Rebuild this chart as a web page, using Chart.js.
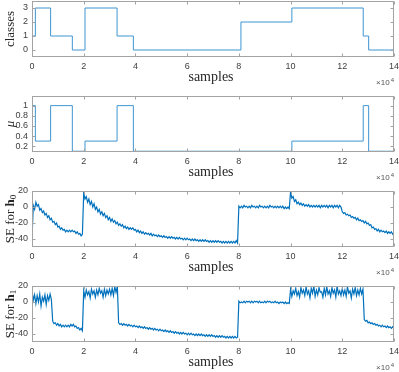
<!DOCTYPE html>
<html>
<head>
<meta charset="utf-8">
<script src="https://cdn.jsdelivr.net/npm/chart.js@4"></script>
<style>
  html, body { margin: 0; padding: 0; background: #fff; overflow: hidden; }
  #wrap { position: relative; width: 399px; height: 372px; overflow: hidden; }
  canvas { position: absolute; left: 0; }
</style>
</head>
<body>
<div id="wrap">
  <canvas id="p0" width="399" height="100" style="top:-5px"></canvas>
  <canvas id="p1" width="399" height="100" style="top:90px"></canvas>
  <canvas id="p2" width="399" height="100" style="top:185px"></canvas>
  <canvas id="p3" width="399" height="100" style="top:280px"></canvas>
</div>
<script>
// x axis in units of 10^4 samples
const xTicks = [0, 2, 4, 6, 8, 10, 12, 14];
const classTicks = [0, 1, 2, 3];
const muTicks = [0.2, 0.4, 0.6, 0.8, 1];
const seTicks = [-40, -20, 0, 20];

// step signals: value holds from changeX[i] until changeX[i+1]
const changeX = [0, 0.13, 0.72, 1.56, 2.05, 3.29, 3.92, 8.08, 10.05, 12.81, 13.02, 14];
const classValues = [1, 3, 1, 0, 3, 1, 0, 2, 3, 1, 0, 0];
const muValues = [1, 0.3, 1, 0.1, 0.3, 1, 0.1, 0.1, 0.3, 1, 0.1, 0.1];

// SE curves, read every 500 samples (0.05 x 10^4), one row = 0.5 x 10^4
const sampleStep = 0.05;
const seH0 = [
  -40, 2, -3, 6, 1, 3, -4, -2, -7, -5,
  -10, -8, -13, -11, -16, -14, -19, -18, -22, -20,
  -25, -24, -28, -26, -29, -28, -31, -29, -31, -29,
  -31, -29, -31, -30, -33, -31, -34, -33, -36, -34,
  18, 10, 13, 6, 10, 3, 7, 0, 4, -3,
  0, -6, -3, -9, -6, -11, -8, -13, -11, -16,
  -13, -18, -15, -19, -17, -21, -19, -23, -21, -24,
  -22, -26, -24, -27, -25, -28, -26, -28, -26, -29,
  -28, -31, -29, -32, -30, -33, -31, -34, -32, -34,
  -33, -35, -33, -36, -34, -36, -35, -37, -35, -37,
  -36, -38, -36, -38, -37, -39, -37, -39, -37, -39,
  -38, -40, -38, -40, -38, -40, -39, -41, -39, -41,
  -39, -41, -40, -42, -40, -42, -40, -42, -41, -43,
  -41, -43, -41, -43, -41, -43, -42, -44, -42, -44,
  -42, -44, -42, -44, -42, -44, -43, -45, -43, -45,
  -43, -45, -43, -45, -43, -45, -43, -45, -42, -45,
  1, -1, 1, -1, 2, 0, 1, -1, 1, -1,
  2, 0, 1, -1, 1, -1, 2, 0, 1, -1,
  1, -1, 1, -1, 2, 0, 1, -1, 1, -1,
  1, -1, 1, -1, 1, -2, 0, -2, 0, -2,
  19, 11, 13, 7, 9, 4, 6, 3, 5, 2,
  4, 1, 3, 1, 3, 0, 2, 0, 2, 0,
  2, 0, 2, -1, 2, 0, 2, 0, 2, -1,
  2, 0, 2, -1, 2, 0, 2, -1, 2, 0,
  -6, -8, -7, -10, -9, -11, -10, -13, -12, -14,
  -13, -16, -14, -17, -16, -18, -17, -20, -18, -21,
  -20, -23, -22, -26, -25, -28, -27, -30, -28, -31,
  -29, -31, -30, -32, -30, -33, -31, -33, -31, -34,
  -32
];
const seH1 = [
  15, 2, 9, -2, 8, 0, 10, -5, 6, 1,
  9, -3, 8, 2, 10, 3, -24, -27, -26, -29,
  -27, -30, -28, -31, -29, -31, -29, -31, -29, -31,
  -28, -30, -28, -31, -30, -33, -32, -35, -33, -36,
  14, 6, 15, 9, 13, 5, 16, 10, 14, 6,
  15, 9, 17, 11, 14, 6, 16, 8, 15, 10,
  16, 9, 17, 8, 19, 12, 20, -26, -28, -27,
  -29, -27, -29, -28, -30, -28, -30, -29, -31, -29,
  -31, -30, -32, -30, -32, -31, -33, -31, -33, -32,
  -34, -32, -34, -33, -35, -33, -35, -34, -36, -34,
  -36, -35, -37, -35, -37, -36, -38, -36, -38, -37,
  -39, -37, -39, -38, -40, -38, -40, -38, -40, -39,
  -41, -39, -41, -39, -41, -40, -42, -40, -42, -40,
  -42, -40, -42, -41, -43, -41, -43, -41, -43, -41,
  -43, -42, -44, -42, -44, -42, -44, -42, -44, -43,
  -45, -43, -45, -43, -45, -43, -45, -43, -45, -44,
  1, -1, 0, -1, 1, -1, 1, 0, 1, -1,
  1, -1, 1, 0, 1, -1, 1, -1, 0, -1,
  1, -1, 1, 0, 1, -1, 0, -1, 1, -1,
  0, -2, 0, -1, 0, -2, 0, -2, -1, -2,
  16, 7, 14, 10, 17, 8, 13, 6, 18, 11,
  15, 8, 19, 10, 14, 5, 17, 11, 20, 7,
  15, 9, 18, 12, 13, 6, 17, 9, 19, 10,
  14, 7, 18, 11, 15, 6, 20, 10, 14, 8,
  17, 9, 15, 7, 19, 11, 14, 5, 16, 10,
  18, 8, 15, 9, 17, 10, 16, -22, -24, -23,
  -26, -25, -27, -26, -28, -27, -29, -28, -30, -29,
  -31, -29, -31, -30, -32, -30, -32, -31, -33, -31,
  -33
];

const BLUE = '#0072BD';
const AXIS = '#a3a3a3';
const TEXT = '#404040';
const SERIF = '"Liberation Serif", "DejaVu Serif", serif';
const SANS = '"Liberation Sans", Arial, sans-serif';

// box, inward ticks on all sides, axis labels
const framePlugin = {
  id: 'frame',
  afterDraw(chart, args, opts) {
    const { ctx, chartArea: a, scales: { x, y } } = chart;
    const L = Math.round(a.left) + 0.5, R = Math.round(a.right) - 0.5;
    const T = Math.round(a.top) + 0.5, B = Math.round(a.bottom) - 0.5;
    ctx.save();
    ctx.strokeStyle = AXIS;
    ctx.lineWidth = 1;
    ctx.strokeRect(L, T, R - L, B - T);
    ctx.beginPath();
    x.ticks.forEach(t => {
      const px = Math.round(x.getPixelForValue(t.value)) + 0.5;
      ctx.moveTo(px, B); ctx.lineTo(px, B - 3);
      ctx.moveTo(px, T); ctx.lineTo(px, T + 3);
    });
    y.ticks.forEach(t => {
      const py = Math.round(y.getPixelForValue(t.value)) + 0.5;
      ctx.moveTo(L, py); ctx.lineTo(L + 3, py);
      ctx.moveTo(R, py); ctx.lineTo(R - 3, py);
    });
    ctx.stroke();

    // x label
    ctx.fillStyle = '#262626';
    ctx.textAlign = 'center';
    ctx.textBaseline = 'middle';
    ctx.font = '14px ' + SERIF;
    ctx.fillText('samples', (a.left + a.right) / 2 - 2, a.bottom + 20);

    // exponent
    ctx.fillStyle = '#555';
    ctx.textAlign = 'right';
    ctx.font = '6px ' + SANS;
    const w4 = ctx.measureText('4').width;
    ctx.fillText('4', a.right, a.bottom + 23);
    ctx.font = '8px ' + SANS;
    ctx.fillText('\u00d710', a.right - w4 - 1, a.bottom + 26);

    // y label (rotated, rich text)
    const parts = opts.yTitle || [];
    ctx.translate(11, (a.top + a.bottom) / 2);
    ctx.rotate(-Math.PI / 2);
    ctx.textAlign = 'left';
    ctx.fillStyle = '#262626';
    let total = 0;
    parts.forEach(p => { ctx.font = p.font; total += ctx.measureText(p.text).width; });
    let cx = -total / 2;
    parts.forEach(p => {
      ctx.font = p.font;
      ctx.fillText(p.text, cx, p.dy || 0);
      cx += ctx.measureText(p.text).width;
    });
    ctx.restore();
  }
};

function makePanel(id, points, yMin, yMax, yTicks, yTitle, stepped, color, width) {
  return new Chart(document.getElementById(id), {
    type: 'line',
    data: {
      datasets: [{
        data: points,
        stepped: stepped,
        borderColor: color,
        borderWidth: width,
        pointRadius: 0,
        tension: 0
      }]
    },
    options: {
      responsive: false,
      animation: false,
      events: [],
      layout: { padding: { top: 6, left: 0, right: 5, bottom: 0 } },
      plugins: {
        legend: { display: false },
        tooltip: { enabled: false },
        frame: { yTitle: yTitle }
      },
      scales: {
        x: {
          type: 'linear',
          min: 0,
          max: 14,
          afterBuildTicks: s => { s.ticks = xTicks.map(v => ({ value: v })); },
          afterFit: s => { s.height = 38; s.paddingLeft = 0; s.paddingRight = 0; },
          grid: { display: false, drawTicks: false },
          border: { display: false },
          ticks: {
            color: TEXT,
            font: { family: SANS, size: 9 },
            padding: 4,
            maxRotation: 0,
            autoSkip: false,
            callback: v => String(v)
          }
        },
        y: {
          type: 'linear',
          min: yMin,
          max: yMax,
          afterBuildTicks: s => { s.ticks = yTicks.map(v => ({ value: v })); },
          afterFit: s => { s.width = 32; s.paddingTop = 0; s.paddingBottom = 0; },
          grid: { display: false, drawTicks: false },
          border: { display: false },
          ticks: {
            color: TEXT,
            font: { family: SANS, size: 9 },
            padding: 4,
            autoSkip: false,
            callback: v => String(v)
          }
        }
      }
    },
    plugins: [framePlugin]
  });
}

const classPts = changeX.map((x, i) => ({ x: x, y: classValues[i] }));
const muPts = changeX.map((x, i) => ({ x: x, y: muValues[i] }));
const h0Pts = seH0.map((v, i) => ({ x: i * sampleStep, y: v }));
const h1Pts = seH1.map((v, i) => ({ x: i * sampleStep, y: v }));

makePanel('p0', classPts, -0.5, 3.5, classTicks,
  [{ text: 'classes', font: '13px ' + SERIF }], true, '#3f95d2', 1);
makePanel('p1', muPts, 0.085, 1.19, muTicks,
  [{ text: '\u03bc', font: 'italic 13px ' + SERIF }], true, '#3f95d2', 1);
makePanel('p2', h0Pts, -50, 20, seTicks,
  [{ text: 'SE for ', font: '13px ' + SERIF },
   { text: 'h', font: 'bold 13px ' + SERIF },
   { text: '0', font: '9px ' + SERIF, dy: 3 }], false, BLUE, 1.2);
makePanel('p3', h1Pts, -50, 20, seTicks,
  [{ text: 'SE for ', font: '13px ' + SERIF },
   { text: 'h', font: 'bold 13px ' + SERIF },
   { text: '1', font: '9px ' + SERIF, dy: 3 }], false, BLUE, 1.2);
</script>
</body>
</html>
